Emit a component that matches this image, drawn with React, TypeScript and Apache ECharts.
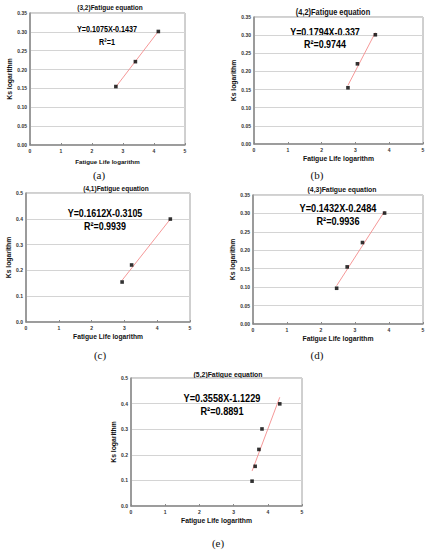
import React, { useEffect, useRef } from "react";
import * as echarts from "echarts";

// ---------- data ----------
const panelTitles = [
  "(3,2)Fatigue equation",
  "(4,2)Fatigue equation",
  "(4,1)Fatigue equation",
  "(4,3)Fatigue equation",
  "(5,2)Fatigue equation",
];
const panelTags = ["(a)", "(b)", "(c)", "(d)", "(e)"];
const equations = [
  "Y=0.1075X-0.1437",
  "Y=0.1794X-0.337",
  "Y=0.1612X-0.3105",
  "Y=0.1432X-0.2484",
  "Y=0.3558X-1.1229",
];
const rSquared = ["1", "0.9744", "0.9939", "0.9936", "0.8891"];
const slopes = [0.1075, 0.1794, 0.1612, 0.1432, 0.3558];
const intercepts = [-0.1437, -0.337, -0.3105, -0.2484, -1.1229];

const lifeA = [2.77, 3.4, 4.14];
const ksA = [0.155, 0.221, 0.301];
const lifeB = [2.78, 3.06, 3.59];
const ksB = [0.155, 0.221, 0.301];
const lifeC = [2.93, 3.22, 4.4];
const ksC = [0.155, 0.221, 0.399];
const lifeD = [2.46, 2.77, 3.22, 3.87];
const ksD = [0.097, 0.155, 0.221, 0.301];
const lifeE = [3.54, 3.63, 3.74, 3.83, 4.35];
const ksE = [0.097, 0.155, 0.221, 0.301, 0.399];

const lifeSets = [lifeA, lifeB, lifeC, lifeD, lifeE];
const ksSets = [ksA, ksB, ksC, ksD, ksE];

const xTicks = [0, 1, 2, 3, 4, 5];
const yMaxes = [0.35, 0.35, 0.5, 0.35, 0.5];
const yIntervals = [0.05, 0.05, 0.1, 0.05, 0.1];
const yDecimals = [2, 2, 1, 2, 1];
const xAxisTitle = "Fatigue Life logarithm";
const yAxisTitle = "Ks logarithm";

// ---------- layout ----------
const layouts = [
  { grid: { left: 30, top: 13, width: 155, height: 132 }, title: [110, 7, 7.4], eq: [107, 29, 9], eqScale: 0.8, r2: [107, 42], tag: [99, 175], xGap: 13, xFont: 6.2, yGap: 15 },
  { grid: { left: 254, top: 17, width: 169, height: 127 }, title: [333, 12, 8.4], eq: [325, 32, 10.5], eqScale: 0.85, r2: [325, 44], tag: [317, 175], xGap: 11, xFont: 6.8, yGap: 14 },
  { grid: { left: 26, top: 193, width: 164, height: 129 }, title: [116, 188, 7.4], eq: [105, 213, 10.5], eqScale: 0.85, r2: [105, 226], tag: [100, 355], xGap: 11, xFont: 6.7, yGap: 13 },
  { grid: { left: 253, top: 195, width: 170, height: 129 }, title: [342, 189, 7.8], eq: [338, 208, 10.8], eqScale: 0.85, r2: [338, 221], tag: [317, 355], xGap: 11, xFont: 6.8, yGap: 14 },
  { grid: { left: 131, top: 378, width: 171, height: 128 }, title: [228, 374, 7.8], eq: [222, 398, 10.8], eqScale: 0.85, r2: [222, 411], tag: [218, 543], xGap: 11, xFont: 6.8, yGap: 14 },
];

const FONT = "Liberation Sans, Arial, sans-serif";

export default function App() {
  const ref = useRef<HTMLDivElement>(null);
  useEffect(() => {
    const chart = echarts.init(ref.current!, null, { renderer: "svg" });
    const grids: any[] = [];
    const xAxes: any[] = [];
    const yAxes: any[] = [];
    const series: any[] = [];
    const graphics: any[] = [];

    layouts.forEach((L, i) => {
      grids.push({
        ...L.grid,
        show: true,
        borderColor: "#a0a0a0",
        borderWidth: 1,
        backgroundColor: "#ffffff",
        containLabel: false,
      });
      xAxes.push({
        gridIndex: i,
        type: "value",
        min: xTicks[0],
        max: xTicks[xTicks.length - 1],
        interval: 1,
        name: xAxisTitle,
        nameLocation: "middle",
        nameGap: L.xGap,
        nameTextStyle: { fontFamily: FONT, fontWeight: "bold", fontSize: L.xFont, color: "#111" },
        axisLine: { show: true, lineStyle: { color: "#8a8a8a", width: 1.5 } },
        axisTick: { show: true, inside: true, length: 2, lineStyle: { color: "#8a8a8a" } },
        axisLabel: { fontFamily: FONT, fontWeight: "bold", fontSize: 5, color: "#333", margin: 3 },
        splitLine: { show: false },
      });
      yAxes.push({
        gridIndex: i,
        type: "value",
        min: 0,
        max: yMaxes[i],
        interval: yIntervals[i],
        name: yAxisTitle,
        nameLocation: "middle",
        nameGap: L.yGap,
        nameTextStyle: { fontFamily: FONT, fontWeight: "bold", fontSize: 6.8, color: "#111" },
        axisLine: { show: true, lineStyle: { color: "#8a8a8a", width: 1.5 } },
        axisTick: { show: false },
        axisLabel: {
          fontFamily: FONT,
          fontWeight: "bold",
          fontSize: 5,
          color: "#333",
          margin: 3,
          formatter: (v: number) => v.toFixed(yDecimals[i]),
        },
        splitLine: { show: true, lineStyle: { color: "#d4d4d4", width: 1 } },
      });

      const xs = lifeSets[i];
      const ys = ksSets[i];
      const x0 = Math.min(...xs);
      const x1 = Math.max(...xs);
      series.push({
        type: "line",
        xAxisIndex: i,
        yAxisIndex: i,
        data: [
          [x0, slopes[i] * x0 + intercepts[i]],
          [x1, slopes[i] * x1 + intercepts[i]],
        ],
        symbol: "none",
        lineStyle: { color: "#f48c8c", width: 0.9 },
        z: 2,
      });
      series.push({
        type: "scatter",
        xAxisIndex: i,
        yAxisIndex: i,
        data: xs.map((x, k) => [x, ys[k]]),
        symbol: "rect",
        symbolSize: 3.6,
        itemStyle: { color: "#000" },
        z: 3,
      });

      graphics.push({
        type: "text",
        x: L.title[0],
        y: L.title[1],
        scaleX: 0.88,
        style: {
          text: panelTitles[i],
          font: `bold ${L.title[2]}px ${FONT}`,
          fill: "#111",
          align: "center",
          verticalAlign: "middle",
        },
      });
      graphics.push({
        type: "text",
        x: L.eq[0],
        y: L.eq[1],
        scaleX: L.eqScale,
        style: {
          text: equations[i],
          font: `bold ${L.eq[2]}px ${FONT}`,
          fill: "#000",
          align: "center",
          verticalAlign: "middle",
        },
      });
      graphics.push({
        type: "text",
        x: L.r2[0],
        y: L.r2[1],
        scaleX: L.eqScale,
        style: {
          text: "R²=" + rSquared[i],
          font: `bold ${L.eq[2]}px ${FONT}`,
          fill: "#000",
          align: "center",
          verticalAlign: "middle",
        },
      });
      graphics.push({
        type: "text",
        x: L.tag[0],
        y: L.tag[1],
        style: {
          text: panelTags[i],
          font: `11px "Liberation Serif", "Times New Roman", serif`,
          fill: "#111",
          align: "center",
          verticalAlign: "middle",
        },
      });
    });

    chart.setOption({
      animation: false,
      backgroundColor: "#ffffff",
      grid: grids,
      xAxis: xAxes,
      yAxis: yAxes,
      series,
      graphic: { elements: graphics },
    });
    return () => chart.dispose();
  }, []);

  return (
    <div
      ref={ref}
      style={{ position: "absolute", left: 0, top: 0, width: 431, height: 550, background: "#fff" }}
    />
  );
}
